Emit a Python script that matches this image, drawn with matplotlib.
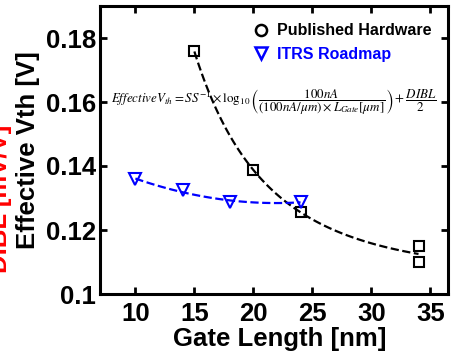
import numpy as np
import matplotlib
matplotlib.use('Agg')
import matplotlib.pyplot as plt
from matplotlib.lines import Line2D
from matplotlib.ticker import FormatStrFormatter

plt.rcParams['font.family'] = 'Liberation Sans'
plt.rcParams['mathtext.fontset'] = 'stix'

# published hardware (gate length nm, effective Vth V)
hw_len = np.array([15, 20, 24, 34, 34])
hw_vth = np.array([0.1758, 0.1387, 0.1256, 0.1150, 0.1100])

# ITRS roadmap
itrs_len = np.array([10, 14, 18, 24])
itrs_vth = np.array([0.1358, 0.1326, 0.1286, 0.1288])

fig = plt.figure(figsize=(4.58, 3.55), dpi=100)
ax = fig.add_axes([100/458, 1 - 294/355, 348/458, 288/355])

# trend lines
c_hw = np.polyfit(1 / hw_len, hw_vth, 2)
xs = np.linspace(15, 34, 100)
ax.plot(xs, np.polyval(c_hw, 1 / xs), '--', color='black', lw=1.6)
c_itrs = np.polyfit(itrs_len, itrs_vth, 2)
xs2 = np.linspace(10, 24, 100)
ax.plot(xs2, np.polyval(c_itrs, xs2), '--', color='blue', lw=1.6)

ax.plot(hw_len, hw_vth, 's', mfc='none', mec='black', ms=7.5, mew=1.5)
ax.plot(itrs_len, itrs_vth, 'v', mfc='none', mec='blue', ms=9, mew=1.5)

ax.set_xlim(7, 36.5)
ax.set_ylim(0.1, 0.19)
ax.set_xticks([10, 15, 20, 25, 30, 35])
ax.set_yticks([0.1, 0.12, 0.14, 0.16, 0.18])
ax.yaxis.set_major_formatter(FormatStrFormatter('%g'))
ax.tick_params(direction='in', length=5, width=2, labelsize=18.5, top=True, right=True)
ax.tick_params(axis='x', pad=6)
ax.tick_params(axis='y', pad=3)
for lbl in ax.get_xticklabels() + ax.get_yticklabels():
    lbl.set_fontweight('bold')
for s in ax.spines.values():
    s.set_linewidth(2.2)

ax.set_xlabel('Gate Length [nm]', fontsize=18.5, fontweight='bold', va='top')
ax.xaxis.set_label_coords(0.517, -0.115)
ax.set_ylabel('Effective Vth [V]', fontsize=18.5, fontweight='bold', labelpad=4)
fig.text(0.0, 0.44, 'DIBL [mV/V]', rotation=90, color='red', fontsize=18.5,
         fontweight='bold', ha='center', va='center')

eq = (r'$Effective V_{th} = SS^{-1}\times\log_{10}\left(\dfrac{100nA}'
      r'{(100nA/\mu m)\times L_{Gate}[\mu m]}\right)+\dfrac{DIBL}{2}$')
ax.text(7.95, 0.16, eq, fontsize=9.4, ha='left', va='center')

handles = [Line2D([], [], marker='o', ls='none', mfc='none', mec='black', ms=8, mew=1.8),
           Line2D([], [], marker='v', ls='none', mfc='none', mec='blue', ms=8, mew=1.8)]
leg = ax.legend(handles, ['Published Hardware', 'ITRS Roadmap'], loc='upper left',
                bbox_to_anchor=(0.399, 0.99), frameon=False,
                handlelength=1, handletextpad=0.5, labelspacing=0.55,
                prop={'weight': 'bold', 'size': 11.5})
leg.get_texts()[1].set_color('blue')

fig.savefig('out.png', dpi=100)
